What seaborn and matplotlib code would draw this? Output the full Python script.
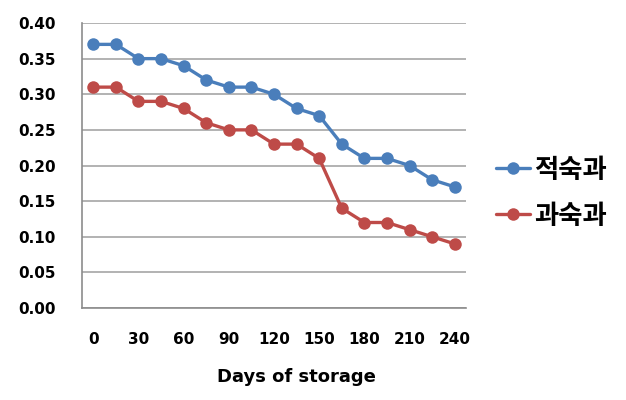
import matplotlib
matplotlib.use("Agg")
import matplotlib.pyplot as plt
import seaborn as sns
import pandas as pd
import numpy as np
from matplotlib.lines import Line2D

days = [0, 15, 30, 45, 60, 75, 90, 105, 120, 135, 150, 165, 180, 195, 210, 225, 240]
series_a = [0.37, 0.37, 0.35, 0.35, 0.34, 0.32, 0.31, 0.31, 0.30, 0.28, 0.27, 0.23, 0.21, 0.21, 0.20, 0.18, 0.17]
series_b = [0.31, 0.31, 0.29, 0.29, 0.28, 0.26, 0.25, 0.25, 0.23, 0.23, 0.21, 0.14, 0.12, 0.12, 0.11, 0.10, 0.09]
names = ["적숙과", "과숙과"]
colors = ["#4A7EBB", "#BE4B48"]
yticks = [0.00, 0.05, 0.10, 0.15, 0.20, 0.25, 0.30, 0.35, 0.40]

sns.set_style("white")
plt.rcParams['font.family'] = ['DejaVu Sans']
plt.rcParams['text.color'] = 'black'
plt.rcParams['xtick.labelcolor'] = 'black'
plt.rcParams['ytick.labelcolor'] = 'black'

df = pd.DataFrame({
    "idx": list(range(len(days))) * 2,
    "val": series_a + series_b,
    "series": [names[0]] * len(days) + [names[1]] * len(days),
})

fig = plt.figure(figsize=(6.26, 4.0), dpi=100)
ax = fig.add_axes([82/626, 1-308/400, 384/626, 285/400])

sns.lineplot(data=df, x="idx", y="val", hue="series", palette=colors,
             marker="o", markersize=9, linewidth=2.4, markeredgewidth=0,
             ax=ax, legend=False)

n = len(days)
ax.set_xlim(-0.5, n - 0.5)
ax.set_ylim(0, 0.40)
ax.set_yticks(yticks)
ax.set_yticklabels([f"{v:.2f}" for v in yticks], fontsize=11, fontweight="bold", color="black")
ax.set_xticks(list(range(0, n, 2)))
ax.set_xticklabels([str(days[i]) for i in range(0, n, 2)], fontsize=11, fontweight="bold", color="black")
ax.set_xticks(np.arange(-0.5, n, 1.0), minor=True)
ax.tick_params(axis="x", which="major", length=0, pad=17)
ax.tick_params(axis="x", which="minor", length=6, width=1.2, color="#8C8C8C", direction="out")
ax.tick_params(axis="y", which="major", length=5, width=1.2, color="#8C8C8C", direction="out", pad=14)
ax.set_xlabel("")
ax.set_ylabel("")
ax.grid(axis="y", color="#A6A6A6", linewidth=1.2)
ax.grid(axis="x", visible=False)
for s in ["top", "right"]:
    ax.spines[s].set_visible(False)
for s in ["left", "bottom"]:
    ax.spines[s].set_color("#8C8C8C")
    ax.spines[s].set_linewidth(1.2)

fig.text(296/626, 1-377/400, "Days of storage", ha="center", va="center",
         fontsize=13, fontweight="bold", color="black")

handles = [Line2D([], [], color=c, marker="o", markersize=9, linewidth=2.4,
                  markeredgewidth=0) for c in colors]
leg = fig.legend(handles, names, loc="center left", bbox_to_anchor=(472/626, 1-193/400),
                 frameon=False, handlelength=1.3, handletextpad=0.15, labelspacing=0.72,
                 prop={"family": ["Noto Sans CJK KR", "DejaVu Sans"], "weight": "bold", "size": 19})
for t in leg.get_texts():
    t.set_color("black")

fig.savefig("out.png", dpi=100)
